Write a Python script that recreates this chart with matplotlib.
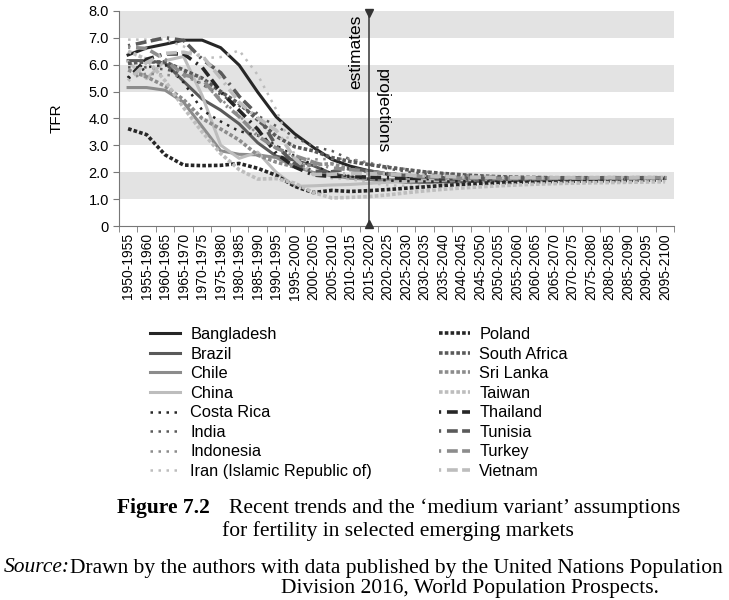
import matplotlib
matplotlib.use("Agg")
import matplotlib.pyplot as plt

# periods on the x axis
periods = [f"{y}-{y + 5}" for y in range(1950, 2100, 5)]

# TFR per country (30 five-year periods)
bangladesh = [6.36, 6.62, 6.76, 6.91, 6.91, 6.63, 5.98, 4.98, 4.06, 3.43, 2.93, 2.48, 2.23, 2.06, 1.93,
              1.84, 1.78, 1.75, 1.74, 1.74, 1.74, 1.75, 1.76, 1.76, 1.77, 1.78, 1.78, 1.79, 1.79, 1.80]
brazil = [6.15, 6.15, 6.06, 5.38, 4.72, 4.31, 3.80, 3.10, 2.60, 2.45, 2.25, 1.95, 1.82, 1.74, 1.68,
          1.64, 1.63, 1.64, 1.65, 1.67, 1.69, 1.70, 1.72, 1.73, 1.74, 1.75, 1.76, 1.77, 1.77, 1.78]
chile = [5.15, 5.15, 5.05, 4.60, 3.70, 2.80, 2.67, 2.65, 2.55, 2.21, 2.00, 1.88, 1.78, 1.75, 1.73,
         1.72, 1.72, 1.73, 1.74, 1.75, 1.76, 1.77, 1.78, 1.78, 1.79, 1.79, 1.80, 1.80, 1.80, 1.81]
china = [6.11, 5.48, 6.15, 6.30, 4.85, 3.01, 2.52, 2.75, 2.00, 1.48, 1.50, 1.53, 1.55, 1.59, 1.63,
         1.66, 1.69, 1.71, 1.73, 1.74, 1.75, 1.76, 1.77, 1.78, 1.78, 1.79, 1.79, 1.80, 1.80, 1.80]
costa_rica = [5.50, 5.90, 6.00, 5.34, 4.31, 3.89, 3.53, 3.37, 3.00, 2.60, 2.28, 1.95, 1.85, 1.76, 1.70,
              1.67, 1.66, 1.66, 1.67, 1.68, 1.69, 1.70, 1.71, 1.72, 1.73, 1.74, 1.75, 1.75, 1.76, 1.77]
india = [5.90, 5.90, 5.82, 5.69, 5.26, 4.89, 4.47, 4.11, 3.72, 3.31, 2.96, 2.80, 2.48, 2.30, 2.14,
         2.03, 1.94, 1.87, 1.82, 1.79, 1.77, 1.76, 1.76, 1.76, 1.77, 1.77, 1.78, 1.78, 1.79, 1.79]
indonesia = [5.49, 5.67, 5.62, 5.57, 5.30, 4.73, 4.11, 3.40, 2.90, 2.55, 2.48, 2.50, 2.50, 2.36, 2.23,
             2.12, 2.03, 1.96, 1.91, 1.87, 1.84, 1.82, 1.81, 1.80, 1.80, 1.80, 1.80, 1.80, 1.81, 1.81]
iran = [6.93, 6.93, 6.93, 6.68, 6.24, 6.28, 6.53, 5.62, 4.33, 2.63, 1.97, 1.78, 1.75, 1.62, 1.52,
        1.50, 1.52, 1.55, 1.58, 1.61, 1.64, 1.66, 1.68, 1.70, 1.71, 1.73, 1.74, 1.75, 1.76, 1.77]
poland = [3.62, 3.40, 2.65, 2.27, 2.25, 2.26, 2.33, 2.15, 1.89, 1.48, 1.25, 1.33, 1.29, 1.32, 1.36,
          1.41, 1.46, 1.51, 1.55, 1.58, 1.61, 1.63, 1.65, 1.66, 1.67, 1.68, 1.69, 1.70, 1.71, 1.72]
south_africa = [6.05, 6.10, 6.10, 5.80, 5.50, 5.00, 4.55, 3.95, 3.34, 2.95, 2.80, 2.55, 2.40, 2.29, 2.19,
                2.10, 2.02, 1.96, 1.91, 1.87, 1.84, 1.82, 1.81, 1.80, 1.80, 1.80, 1.80, 1.80, 1.80, 1.80]
sri_lanka = [5.80, 5.55, 5.20, 4.70, 4.00, 3.61, 3.20, 2.64, 2.38, 2.20, 2.28, 2.32, 2.11, 2.03, 1.95,
             1.89, 1.84, 1.81, 1.79, 1.78, 1.77, 1.77, 1.77, 1.77, 1.78, 1.78, 1.78, 1.79, 1.79, 1.79]
taiwan = [6.50, 6.20, 5.40, 4.40, 3.50, 2.70, 2.10, 1.75, 1.77, 1.60, 1.25, 1.05, 1.07, 1.10, 1.16,
          1.24, 1.31, 1.37, 1.42, 1.46, 1.50, 1.53, 1.56, 1.58, 1.60, 1.61, 1.62, 1.63, 1.64, 1.65]
thailand = [5.50, 6.20, 6.40, 6.40, 5.90, 5.00, 4.30, 3.60, 2.70, 2.20, 1.90, 1.85, 1.85, 1.82, 1.80,
            1.78, 1.77, 1.76, 1.76, 1.76, 1.76, 1.76, 1.77, 1.77, 1.77, 1.78, 1.78, 1.78, 1.79, 1.79]
tunisia = [6.70, 6.85, 7.00, 6.90, 6.20, 5.70, 4.82, 4.14, 2.98, 2.33, 2.04, 2.02, 2.16, 2.05, 1.95,
           1.88, 1.83, 1.80, 1.79, 1.78, 1.78, 1.78, 1.78, 1.79, 1.79, 1.79, 1.80, 1.80, 1.80, 1.80]
turkey = [6.65, 6.60, 6.19, 5.62, 5.47, 4.65, 4.07, 3.35, 2.90, 2.62, 2.38, 2.16, 2.10, 2.03, 1.95,
          1.88, 1.83, 1.80, 1.78, 1.77, 1.77, 1.77, 1.77, 1.78, 1.78, 1.78, 1.79, 1.79, 1.79, 1.80]
vietnam = [5.40, 6.08, 6.42, 6.46, 6.33, 5.50, 4.60, 4.02, 3.56, 2.52, 1.92, 1.93, 1.96, 1.95, 1.93,
           1.90, 1.87, 1.85, 1.83, 1.82, 1.81, 1.80, 1.80, 1.80, 1.80, 1.80, 1.80, 1.80, 1.80, 1.80]

c1, c2, c3, c4 = "#262626", "#5a5a5a", "#8c8c8c", "#bdbdbd"
solid = "-"
dots = (0, (1, 2.2))
sq = (0, (1, 0.6))
dashdot = (0, (0.6, 1.6, 3, 1.2, 3, 1.6))

series = [
    ("Bangladesh", bangladesh, c1, solid, 2.2),
    ("Brazil", brazil, c2, solid, 2.2),
    ("Chile", chile, c3, solid, 2.2),
    ("China", china, c4, solid, 2.2),
    ("Costa Rica", costa_rica, c1, dots, 1.8),
    ("India", india, c2, dots, 1.8),
    ("Indonesia", indonesia, c3, dots, 1.8),
    ("Iran (Islamic Republic of)", iran, c4, dots, 1.8),
    ("Poland", poland, c1, sq, 2.6),
    ("South Africa", south_africa, c2, sq, 2.6),
    ("Sri Lanka", sri_lanka, c3, sq, 2.6),
    ("Taiwan", taiwan, c4, sq, 2.6),
    ("Thailand", thailand, c1, dashdot, 2.6),
    ("Tunisia", tunisia, c2, dashdot, 2.6),
    ("Turkey", turkey, c3, dashdot, 2.6),
    ("Vietnam", vietnam, c4, dashdot, 2.6),
]

plt.rcParams["font.family"] = ["Liberation Sans", "DejaVu Sans"]

fig = plt.figure(figsize=(7.29, 6.0), dpi=100)
ax = fig.add_axes([0.163, 0.623, 0.762, 0.359])

for lo in (1, 3, 5, 7):
    ax.axhspan(lo, lo + 1, color="#e3e3e3", lw=0, zorder=0)

x = list(range(len(periods)))
for name, vals, col, ls, lw in series:
    ax.plot(x, vals, color=col, linestyle=ls, lw=lw, label=name, zorder=2)

# boundary between estimates and projections
split = periods.index("2015-2020")
ax.plot([split, split], [0, 8], color="#444444", lw=1.2, zorder=3)
ax.plot([split], [7.93], marker="v", color="#333333", ms=6, zorder=4, clip_on=False)
ax.plot([split], [0.07], marker="^", color="#333333", ms=6, zorder=4, clip_on=False)
ax.text(split - 0.3, 7.85, "estimates", rotation=90, ha="right", va="top", fontsize=12.5)
ax.text(split + 0.35, 5.85, "projections", rotation=270, ha="left", va="top", fontsize=12.5)

ax.set_xlim(-0.5, len(periods) - 0.5)
ax.set_ylim(0, 8)
ax.set_yticks(range(9))
ax.set_yticklabels(["0"] + [f"{v:.1f}" for v in range(1, 9)], fontsize=10.5)
ax.set_xticks(x)
ax.set_xticklabels(periods, rotation=90, fontsize=10)
ax.set_xticks([i - 0.5 for i in range(len(periods) + 1)], minor=True)
ax.tick_params(axis="x", which="major", length=0, pad=5)
ax.tick_params(axis="x", which="minor", length=4, color="#777777")
ax.tick_params(axis="y", length=4, color="#777777", pad=3)
ax.set_ylabel("TFR", fontsize=11, labelpad=18)
for s in ("top", "right"):
    ax.spines[s].set_visible(False)
for s in ("left", "bottom"):
    ax.spines[s].set_color("#777777")

fig.legend(loc="upper left", bbox_to_anchor=(0.197, 0.466), ncol=2, frameon=False,
           fontsize=11.8, handlelength=1.85, handletextpad=0.6, columnspacing=4.1,
           labelspacing=0.28, borderaxespad=0)

serif = "Liberation Serif"
fs = 15.5
fig.text(117 / 729, 1 - 508 / 600, "Figure 7.2", family=serif, weight="bold", fontsize=fs,
         ha="left", va="center")
fig.text(229 / 729, 1 - 508 / 600, "Recent trends and the \u2018medium variant\u2019 assumptions",
         family=serif, fontsize=fs, ha="left", va="center")
fig.text(398 / 729, 1 - 531 / 600, "for fertility in selected emerging markets",
         family=serif, fontsize=fs, ha="center", va="center")
fig.text(4 / 729, 1 - 568 / 600, "Source:", family=serif, style="italic", fontsize=fs,
         ha="left", va="center")
fig.text(70 / 729, 1 - 568 / 600,
         "Drawn by the authors with data published by the United Nations Population",
         family=serif, fontsize=fs, ha="left", va="center")
fig.text(470 / 729, 1 - 589 / 600, "Division 2016, World Population Prospects.",
         family=serif, fontsize=fs, ha="center", va="center")

fig.savefig("out.png", dpi=100)
